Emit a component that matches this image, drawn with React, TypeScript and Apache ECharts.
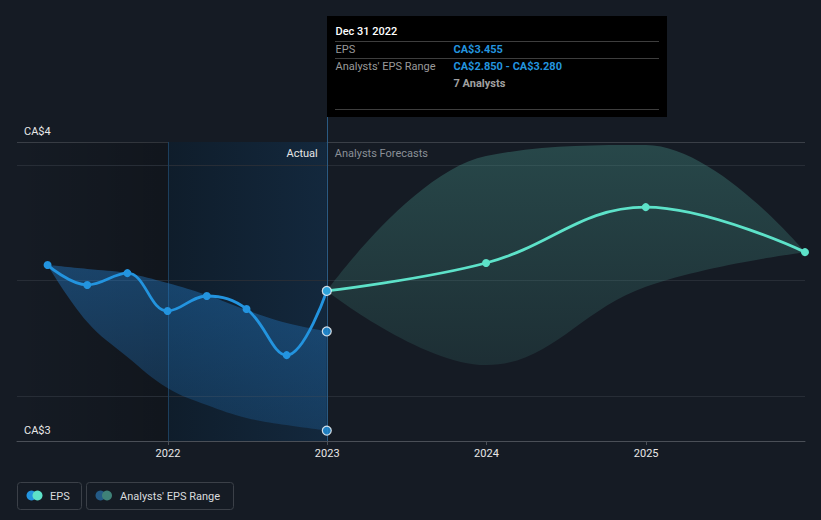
import React, { useEffect, useRef } from "react";
import * as echarts from "echarts";

// ---- data ----
const pastDates = ["2021-03-31", "2021-06-30", "2021-09-30", "2021-12-31", "2022-03-31", "2022-06-30", "2022-09-30", "2022-12-31"];
const pastEps = [3.567, 3.481, 3.532, 3.368, 3.433, 3.377, 3.177, 3.455];
const pastRangeLow = [3.567, 3.32, 3.169, 3.035, 2.961, 2.905, 2.874, 2.85];
const pastRangeHigh = [3.567, 3.55, 3.532, 3.489, 3.437, 3.372, 3.316, 3.28];

const forecastDates = ["2022-12-31", "2023-12-31", "2024-12-31", "2025-12-31"];
const forecastEps = [3.455, 3.576, 3.818, 3.623];
const forecastLow = [3.455, 3.134, 3.473, 3.623];
const forecastHigh = [3.455, 4.039, 4.087, 3.623];

const hoverDate = "2022-12-31";
const hoverValues = [3.455, 3.28, 2.85];

const yGridValues = [3, 3.5, 4];
const yEdgeLabels = ["CA$3", "CA$4"];
const xMin = "2021-01-20";
const xMax = "2025-12-31";
const actualStart = "2022-01-01";

const tooltipTitle = "Dec 31 2022";
const tooltipRows = [
  { label: "EPS", value: "CA$3.455" },
  { label: "Analysts' EPS Range", value: "CA$2.850 - CA$3.280" },
];
const tooltipNote = "7 Analysts";
const legendItems = ["EPS", "Analysts' EPS Range"];

// ---- styles ----
const BG = "#151b24";
const EPS_BLUE = "#2394df";
const EPS_TEAL = "#5de2c9";
const GRID = { left: 17, right: 16, top: 142, bottom: 79 };
const FONT = "Roboto, 'Noto Sans', sans-serif";
const SMOOTH = 0.4;

export default function App() {
  const ref = useRef<HTMLDivElement>(null);

  useEffect(() => {
    const el = ref.current!;
    const chart = echarts.init(el, null, { renderer: "svg" });
    const pair = (d: string[], v: number[]) => d.map((x, i) => [x, v[i]]);
    const diff = (hi: number[], lo: number[]) => hi.map((h, i) => +(h - lo[i]).toFixed(4));
    const hidden = { width: 0, opacity: 0 };

    const option: any = {
      animation: false,
      backgroundColor: BG,
      textStyle: { fontFamily: FONT },
      grid: { ...GRID, containLabel: false },
      xAxis: {
        type: "time",
        min: xMin,
        max: xMax,
        splitNumber: 5,
        axisLine: { show: true, lineStyle: { color: "#4a4f57", width: 1 } },
        axisTick: { show: true, length: 4, lineStyle: { color: "#4a4f57" } },
        splitLine: { show: false },
        axisLabel: {
          color: "#e8e8e8",
          fontSize: 11,
          margin: 7,
          showMinLabel: false,
          showMaxLabel: false,
          formatter: (v: number) => {
            const d = new Date(v);
            return d.getMonth() === 0 && d.getDate() === 1 ? String(d.getFullYear()) : "";
          },
        },
      },
      yAxis: [
        {
          type: "value",
          position: "left",
          min: 2.805,
          max: 4.1,
          axisLine: { show: false },
          axisTick: { show: false },
          axisLabel: { show: false },
          splitLine: { show: false },
        },
        {
          type: "value",
          position: "left",
          min: 0,
          max: 1,
          interval: 1,
          axisLine: { show: false },
          axisTick: { show: false },
          splitLine: { show: true, lineStyle: { color: "#3a3f47" } },
          axisLabel: {
            inside: true,
            margin: 7,
            color: "#e8e8e8",
            fontSize: 11,
            verticalAlign: "bottom",
            padding: [0, 0, 5, 0],
            formatter: (v: number) => (v === 1 ? yEdgeLabels[1] : yEdgeLabels[0]),
          },
        },
      ],
      series: [
        {
          name: "pastLow",
          type: "line",
          stack: "past",
          smooth: SMOOTH,
          symbol: "none",
          silent: true,
          lineStyle: hidden,
          data: pair(pastDates, pastRangeLow),
          markArea: {
            silent: true,
            z: 0,
            data: [
              [
                {
                  xAxis: xMin,
                  itemStyle: {
                    color: new echarts.graphic.LinearGradient(0, 0, 1, 0, [
                      { offset: 0, color: "rgba(0,0,0,0)" },
                      { offset: 1, color: "rgba(0,0,0,0.2)" },
                    ]),
                  },
                  label: { show: false },
                },
                { xAxis: actualStart },
              ],
              [
                {
                  name: "Actual",
                  xAxis: actualStart,
                  itemStyle: {
                    color: new echarts.graphic.LinearGradient(0, 0, 1, 0, [
                      { offset: 0, color: "#0f1d2b" },
                      { offset: 1, color: "#13283d" },
                    ]),
                  },
                  label: {
                    show: true,
                    position: "insideTopRight",
                    distance: 6,
                    offset: [-3, 0],
                    color: "#e6e6e6",
                    fontSize: 11,
                    fontFamily: FONT,
                  },
                },
                { xAxis: hoverDate },
              ],
              [
                {
                  name: "Analysts Forecasts",
                  xAxis: hoverDate,
                  itemStyle: { color: "rgba(0,0,0,0)" },
                  label: {
                    show: true,
                    position: "insideTopLeft",
                    distance: 6,
                    offset: [2, 0],
                    color: "#8b9097",
                    fontSize: 11,
                    fontFamily: FONT,
                  },
                },
                { xAxis: xMax },
              ],
            ],
          },
          markLine: {
            silent: true,
            z: 1,
            symbol: ["none", "none"],
            label: { show: false },
            data: [
              ...yGridValues.map((v) => ({ yAxis: v, lineStyle: { color: "#272d36", width: 1, type: "solid" } })),
              { xAxis: actualStart, lineStyle: { color: "#1c3f5d", width: 1, type: "solid" } },
              { xAxis: hoverDate, lineStyle: { color: "#2a5a82", width: 1, type: "solid" } },
            ],
          },
        },
        {
          name: "pastRange",
          type: "line",
          stack: "past",
          smooth: SMOOTH,
          symbol: "none",
          silent: true,
          lineStyle: hidden,
          areaStyle: {
            color: new echarts.graphic.LinearGradient(0, 0, 0, 1, [
              { offset: 0, color: "rgba(36,130,212,0.58)" },
              { offset: 1, color: "rgba(36,130,212,0.3)" },
            ]),
          },
          data: pair(pastDates, diff(pastRangeHigh, pastRangeLow)),
        },
        {
          name: "fcLow",
          type: "line",
          stack: "fc",
          smooth: SMOOTH,
          symbol: "none",
          silent: true,
          lineStyle: hidden,
          data: pair(forecastDates, forecastLow),
        },
        {
          name: "fcRange",
          type: "line",
          stack: "fc",
          smooth: SMOOTH,
          symbol: "none",
          silent: true,
          lineStyle: hidden,
          areaStyle: {
            color: new echarts.graphic.LinearGradient(0, 0, 0, 1, [
              { offset: 0, color: "rgba(73,153,142,0.5)" },
              { offset: 1, color: "rgba(73,153,142,0.22)" },
            ]),
          },
          data: pair(forecastDates, diff(forecastHigh, forecastLow)),
        },
        {
          name: "EPS",
          type: "line",
          smooth: SMOOTH,
          symbol: "circle",
          symbolSize: 8,
          showAllSymbol: true,
          lineStyle: { color: EPS_BLUE, width: 2.8 },
          itemStyle: { color: EPS_BLUE },
          data: pair(pastDates, pastEps),
          z: 3,
        },
        {
          name: "EPS forecast",
          type: "line",
          smooth: SMOOTH,
          symbol: "circle",
          symbolSize: 8,
          showAllSymbol: true,
          clip: false,
          lineStyle: { color: EPS_TEAL, width: 2.8 },
          itemStyle: { color: EPS_TEAL },
          data: pair(forecastDates, forecastEps),
          z: 3,
        },
        {
          name: "hover",
          type: "scatter",
          symbol: "circle",
          symbolSize: 9,
          itemStyle: { color: EPS_BLUE, borderColor: "#ffffff", borderWidth: 1.2 },
          data: hoverValues.map((v) => [hoverDate, v]),
          z: 5,
        },
      ],
    };
    chart.setOption(option);

    const p = chart.convertToPixel({ gridIndex: 0 }, [hoverDate, hoverValues[0]]) as number[];
    const ax = Math.round(p[0]) + 0.5;
    const bx = ax - 0.5;
    const by = 16;
    const sep = (y: number) => ({
      type: "line",
      shape: { x1: bx + 8, y1: y, x2: bx + 332, y2: y },
      style: { stroke: "#3e3e3e", lineWidth: 1 },
    });
    const txt = (x: number, y: number, text: string, fill: string, weight: any = "normal") => ({
      type: "text",
      x,
      y,
      style: { text, fill, font: `${weight} 11px ${FONT}`, verticalAlign: "middle" },
    });

    const legendX1 = GRID.left + 0.5;
    const legendY = 482.5;
    const graphic: any[] = [
      { type: "line", shape: { x1: ax, y1: by + 101, x2: ax, y2: GRID.top }, style: { stroke: "#2a5a82", lineWidth: 1 } },
      { type: "rect", shape: { x: bx, y: by, width: 340, height: 101 }, style: { fill: "#000000" } },
      txt(bx + 8.5, 31, tooltipTitle, "#ffffff", 500),
      sep(41.5),
      txt(bx + 8.5, 49.5, tooltipRows[0].label, "#9a9a9a"),
      txt(bx + 126.5, 49.5, tooltipRows[0].value, EPS_BLUE, "bold"),
      sep(58.5),
      txt(bx + 8.5, 66.5, tooltipRows[1].label, "#9a9a9a"),
      txt(bx + 126.5, 66.5, tooltipRows[1].value, EPS_BLUE, "bold"),
      txt(bx + 126.5, 83, tooltipNote, "#a0a0a0", "bold"),
      sep(109.5),
      // legend
      { type: "rect", shape: { x: legendX1, y: legendY, width: 64, height: 27, r: 3 }, style: { fill: "none", stroke: "#3b4048", lineWidth: 1 } },
      { type: "circle", shape: { cx: 31.5, cy: 495.5, r: 5 }, style: { fill: EPS_BLUE } },
      { type: "circle", shape: { cx: 37.5, cy: 495.5, r: 5 }, style: { fill: EPS_TEAL } },
      { type: "text", x: 50, y: 496, style: { text: legendItems[0], fill: "#d9dbde", font: `11px ${FONT}`, verticalAlign: "middle" } },
      { type: "rect", shape: { x: 86.5, y: legendY, width: 147, height: 27, r: 3 }, style: { fill: "none", stroke: "#3b4048", lineWidth: 1 } },
      { type: "circle", shape: { cx: 100.5, cy: 495.5, r: 5 }, style: { fill: "#245a86" } },
      { type: "circle", shape: { cx: 107, cy: 495.5, r: 5 }, style: { fill: "#3f8178" } },
      { type: "text", x: 120, y: 496, style: { text: legendItems[1], fill: "#d9dbde", font: `11px ${FONT}`, verticalAlign: "middle" } },
    ];
    chart.setOption({ graphic });

    return () => chart.dispose();
  }, []);

  return <div ref={ref} style={{ position: "fixed", left: 0, top: 0, width: 821, height: 520 }} />;
}
